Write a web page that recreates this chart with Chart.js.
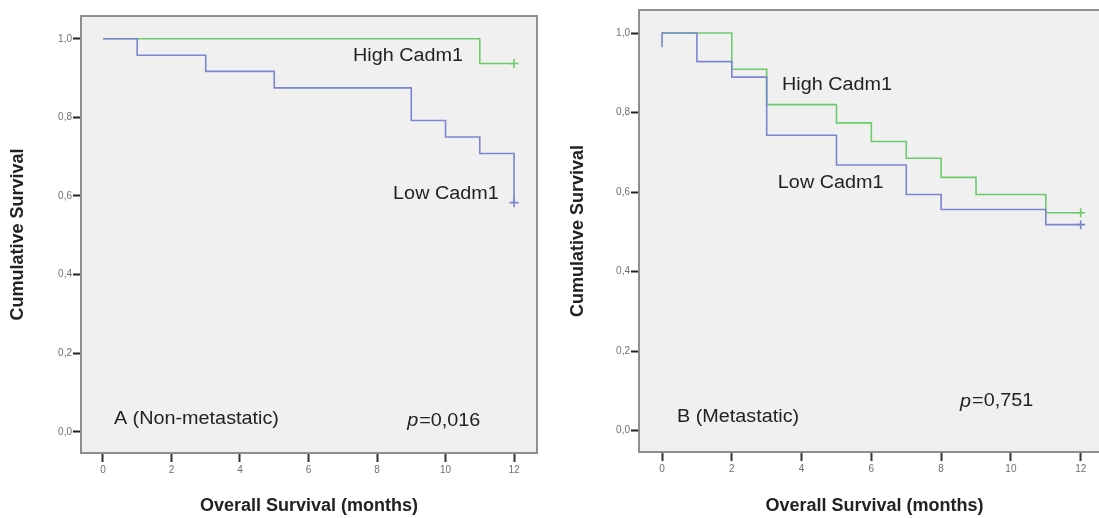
<!DOCTYPE html>
<html>
<head>
<meta charset="utf-8">
<script src="https://cdn.jsdelivr.net/npm/chart.js@4/dist/chart.umd.min.js"></script>
<style>
  html, body { margin: 0; padding: 0; background: #fff; overflow: hidden; }
  #wrapA { position: absolute; left: 0; top: 0; width: 550px; height: 518px; }
  #wrapB { position: absolute; left: 560px; top: 0; width: 563px; height: 518px; }
</style>
</head>
<body>
<div id="wrapA"><canvas id="chartA"></canvas></div>
<div id="wrapB"><canvas id="chartB"></canvas></div>
<script>
// panel A (non-metastatic)
const monthsHighA = [0, 11, 12];
const survHighA = [1.0, 0.937, 0.937];
const monthsLowA = [0, 1, 3, 5, 9, 10, 11, 12];
const survLowA = [1.0, 0.958, 0.917, 0.875, 0.792, 0.750, 0.708, 0.583];
const censorHighA = [[12, 0.937]];
const censorLowA = [[12, 0.583]];

// panel B (metastatic)
const monthsHighB = [0, 2, 3, 5, 6, 7, 8, 9, 11, 12];
const survHighB = [1.0, 0.909, 0.820, 0.774, 0.727, 0.685, 0.637, 0.594, 0.548, 0.548];
const monthsLowB = [0, 0, 1, 2, 3, 5, 7, 8, 11, 12];
const survLowB = [0.964, 1.0, 0.928, 0.889, 0.743, 0.668, 0.594, 0.556, 0.518, 0.518];
const censorHighB = [[12, 0.548]];
const censorLowB = [[12, 0.518]];

const xTicks = [0, 2, 4, 6, 8, 10, 12];
const yTicks = [0.0, 0.2, 0.4, 0.6, 0.8, 1.0];

const GREEN = '#6ccc6c';
const BLUE = '#7a86cf';

function pts(xs, ys) {
  return xs.map((x, i) => ({x: x, y: ys[i]}));
}

// plot background + grey frame, and the text labels inside the plot
const framePlugin = {
  id: 'frame',
  beforeDraw(chart) {
    const a = chart.chartArea;
    const ctx = chart.ctx;
    ctx.save();
    ctx.fillStyle = '#f0f0f0';
    ctx.fillRect(a.left, a.top, a.right - a.left, a.bottom - a.top);
    ctx.restore();
  },
  afterDraw(chart, args, opts) {
    const a = chart.chartArea;
    const ctx = chart.ctx;
    ctx.save();
    ctx.strokeStyle = '#8e8e8e';
    ctx.lineWidth = 2;
    ctx.strokeRect(a.left, a.top, a.right - a.left, a.bottom - a.top);

    const xs = chart.scales.x, ys = chart.scales.y;
    (opts.labels || []).forEach(l => {
      ctx.save();
      ctx.translate(xs.getPixelForValue(l.x), ys.getPixelForValue(l.y));
      ctx.scale(1.1, 1);
      ctx.fillStyle = '#222';
      ctx.textBaseline = 'middle';
      ctx.textAlign = 'left';
      let dx = 0;
      if (l.italic) {
        ctx.font = 'italic 18px "Liberation Sans", Arial, sans-serif';
        ctx.fillText(l.italic, 0, 0);
        dx = ctx.measureText(l.italic).width + 1;
      }
      ctx.font = '18px "Liberation Sans", Arial, sans-serif';
      ctx.fillText(l.text, dx, 0);
      ctx.restore();
    });
    ctx.restore();
  }
};

function makeChart(id, d, sizes) {
  const ctx = document.getElementById(id).getContext('2d');
  return new Chart(ctx, {
    type: 'line',
    data: {
      datasets: [
        {
          data: pts(d.monthsLow, d.survLow),
          borderColor: BLUE, borderWidth: 1.6,
          stepped: true, pointRadius: 0, fill: false
        },
        {
          data: pts(d.monthsHigh, d.survHigh),
          borderColor: GREEN, borderWidth: 1.6,
          stepped: true, pointRadius: 0, fill: false
        },
        {
          type: 'scatter',
          data: d.censorLow.map(c => ({x: c[0], y: c[1]})),
          borderColor: BLUE, borderWidth: 1.6,
          pointStyle: 'cross', pointRadius: 4.5
        },
        {
          type: 'scatter',
          data: d.censorHigh.map(c => ({x: c[0], y: c[1]})),
          borderColor: GREEN, borderWidth: 1.6,
          pointStyle: 'cross', pointRadius: 4.5
        }
      ]
    },
    options: {
      responsive: true,
      maintainAspectRatio: false,
      animation: false,
      events: [],
      layout: { padding: { top: sizes.top, right: sizes.right, bottom: 0, left: 0 } },
      plugins: {
        legend: { display: false },
        tooltip: { enabled: false },
        frame: { labels: d.labels }
      },
      scales: {
        x: {
          type: 'linear',
          min: sizes.xMin, max: sizes.xMax,
          afterFit: s => { s.height = sizes.xAxisH; },
          afterBuildTicks: s => { s.ticks = xTicks.map(v => ({value: v})); },
          border: { display: false },
          grid: { drawOnChartArea: false, drawTicks: true, tickLength: 9, tickColor: '#333', tickWidth: 2 },
          ticks: {
            padding: 2,
            color: '#707070',
            font: { family: '"Liberation Sans", Arial, sans-serif', size: 10 },
            maxRotation: 0,
            callback: v => String(v)
          },
          title: {
            display: true,
            text: 'Overall Survival (months)',
            color: '#222',
            padding: { top: 0, bottom: 1 },
            font: { family: '"Liberation Sans", Arial, sans-serif', size: 18, weight: 'bold' }
          }
        },
        y: {
          type: 'linear',
          min: -0.054, max: 1.058,
          afterFit: s => { s.width = sizes.yAxisW; },
          afterBuildTicks: s => { s.ticks = yTicks.map(v => ({value: v})); },
          border: { display: false },
          grid: { drawOnChartArea: false, drawTicks: true, tickLength: 8, tickColor: '#222', tickWidth: 2 },
          ticks: {
            padding: 1,
            color: '#707070',
            font: { family: '"Liberation Sans", Arial, sans-serif', size: 10 },
            callback: v => v.toFixed(1).replace('.', ',')
          },
          title: {
            display: true,
            text: 'Cumulative Survival',
            color: '#222',
            padding: { top: 7, bottom: 0 },
            font: { family: '"Liberation Sans", Arial, sans-serif', size: 18, weight: 'bold' }
          }
        }
      }
    },
    plugins: [framePlugin]
  });
}

makeChart('chartA', {
  monthsHigh: monthsHighA, survHigh: survHighA,
  monthsLow: monthsLowA, survLow: survLowA,
  censorHigh: censorHighA, censorLow: censorLowA,
  labels: [
    {x: 7.3, y: 0.957, text: 'High Cadm1'},
    {x: 8.47, y: 0.606, text: 'Low Cadm1'},
    {x: 0.32, y: 0.033, text: 'A (Non-metastatic)'},
    {x: 8.88, y: 0.028, italic: 'p', text: '=0,016'}
  ]
}, { top: 16, right: 13, xAxisH: 65, yAxisW: 81, xMin: -0.64, xMax: 12.67 });

makeChart('chartB', {
  monthsHigh: monthsHighB, survHigh: survHighB,
  monthsLow: monthsLowB, survLow: survLowB,
  censorHigh: censorHighB, censorLow: censorLowB,
  labels: [
    {x: 3.44, y: 0.869, text: 'High Cadm1'},
    {x: 3.32, y: 0.622, text: 'Low Cadm1'},
    {x: 0.43, y: 0.035, text: 'B (Metastatic)'},
    {x: 8.54, y: 0.073, italic: 'p', text: '=0,751'}
  ]
}, { top: 10, right: 13, xAxisH: 66, yAxisW: 79, xMin: -0.66, xMax: 12.84 });
</script>
</body>
</html>
